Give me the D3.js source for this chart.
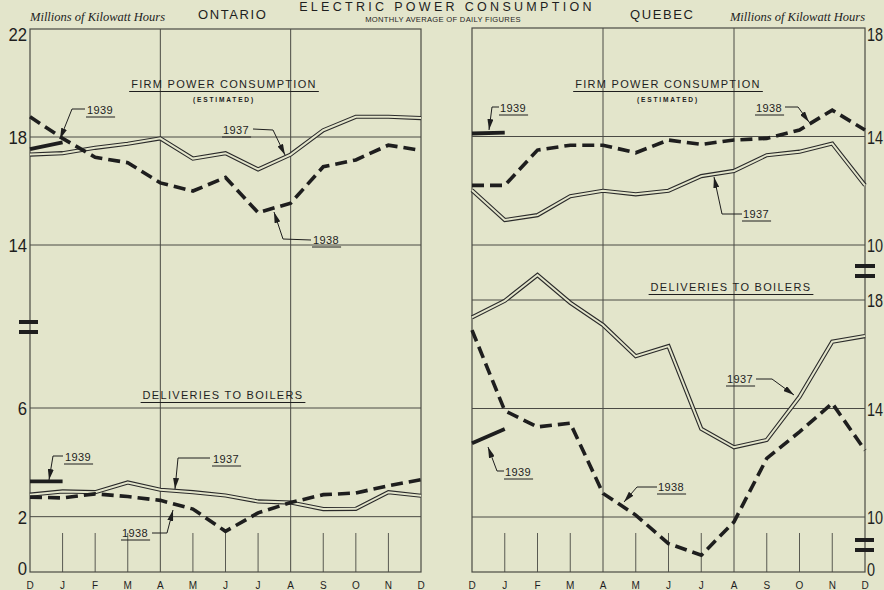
<!DOCTYPE html>
<html><head><meta charset="utf-8">
<script src="https://cdn.jsdelivr.net/npm/d3@7"></script>
<style>
html,body{margin:0;padding:0;background:#e3e5cb;}
svg{display:block;}
</style></head>
<body>
<script>
// ---------- DATA ----------
const months = ["D","J","F","M","A","M","J","J","A","S","O","N","D"];

// Ontario — firm power consumption (estimated), millions kWh
const ontFirm1937 = [17.35,17.4,17.6,17.75,17.95,17.2,17.4,16.8,17.35,18.25,18.75,18.75,18.7];
const ontFirm1938 = [18.75,17.95,17.25,17.05,16.3,16.0,16.5,15.2,15.55,16.9,17.15,17.7,17.5];
const ontFirm1939 = [17.55,17.8];
// Ontario — deliveries to boilers
const ontBoil1937 = [2.81,2.93,2.9,3.26,2.99,2.9,2.78,2.56,2.52,2.28,2.29,2.9,2.77];
const ontBoil1938 = [2.72,2.69,2.84,2.74,2.6,2.28,1.46,2.14,2.52,2.81,2.87,3.14,3.36];
const ontBoil1939 = [3.3,3.3];

// Quebec — firm power consumption (estimated)
const queFirm1937 = [12.02,10.92,11.1,11.8,12.0,11.87,12.0,12.54,12.73,13.31,13.44,13.74,12.2];
const queFirm1938 = [12.2,12.2,13.5,13.68,13.68,13.4,13.87,13.71,13.87,13.93,14.24,14.97,14.24];
const queFirm1939 = [14.11,14.14];
// Quebec — deliveries to boilers
const queBoil1937 = [17.36,17.97,18.92,17.9,17.08,15.93,16.3,13.25,12.57,12.84,14.43,16.46,16.67];
const queBoil1938 = [16.89,13.92,13.32,13.46,10.87,10.07,9.02,8.59,9.82,12.16,13.14,14.19,12.46];
const queBoil1939 = [12.72,13.24];

// tick labels
const ontTopTicks = [22,18,14];
const ontBotTicks = [6,2,0];
const queTopTicks = [18,14,10];
const queBotTicks = [18,14,10];
const queBotBaseLabel = "0";
const gridMonths = [4,8];

// ---------- LAYOUT ----------
const W = 884, H = 590;
const BG = "#e3e5cb", INK = "#1e1e1e", GRID = "#4a4a44";
const svg = d3.select("body").append("svg").attr("width",W).attr("height",H);
svg.append("rect").attr("width",W).attr("height",H).attr("fill",BG);

const defs = svg.append("defs");
defs.append("marker").attr("id","arr").attr("viewBox","0 0 11 6")
  .attr("refX",11).attr("refY",3).attr("markerWidth",11).attr("markerHeight",6)
  .attr("markerUnits","userSpaceOnUse").attr("orient","auto")
  .append("path").attr("d","M0,0 L11,3 L0,6 Z").attr("fill",INK);

const TOP_L = 29, TOP_R = 28, BOTTOM = 572;
const xL = d3.scaleLinear().domain([0,12]).range([30,421]);
const xR = d3.scaleLinear().domain([0,12]).range([472,865]);
const yLTop = d3.scaleLinear().domain([22,14]).range([29,245]);
const yLBot = d3.scaleLinear().domain([6,0]).range([408,571]);
const yRTop = d3.scaleLinear().domain([18,10]).range([28,245]);
const yRBot = d3.scaleLinear().domain([18,10]).range([300,517]);

const numFont = "'Liberation Sans', Arial, sans-serif";

// ---------- TITLES ----------
svg.append("text").attr("x",447).attr("y",10.5).attr("text-anchor","middle")
  .attr("font-family",numFont).attr("font-size",12.5).attr("letter-spacing",3.3)
  .attr("fill",INK).text("ELECTRIC POWER CONSUMPTION");
function italic(x,anchor,t){
  svg.append("text").attr("x",x).attr("y",21).attr("text-anchor",anchor)
   .attr("font-family","'Liberation Serif', 'DejaVu Serif', serif").attr("font-style","italic")
   .attr("font-size",12.5).attr("fill",INK).text(t);
}
italic(30,"start","Millions of Kilowatt Hours");
italic(865,"end","Millions of Kilowatt Hours");
svg.append("text").attr("x",198).attr("y",18.5).attr("font-family",numFont).attr("font-size",13)
  .attr("letter-spacing",1.6).attr("fill",INK).text("ONTARIO");
svg.append("text").attr("x",630).attr("y",18.5).attr("font-family",numFont).attr("font-size",13)
  .attr("letter-spacing",1.6).attr("fill",INK).text("QUEBEC");
svg.append("text").attr("x",443).attr("y",21.5).attr("text-anchor","middle").attr("font-family",numFont)
  .attr("font-size",7.6).attr("letter-spacing",0.3).attr("fill",INK).text("MONTHLY AVERAGE OF DAILY FIGURES");

// ---------- FRAMES & GRID ----------
function panel(x, top, hGrid){
  const g = svg.append("g").attr("stroke",GRID).attr("fill","none");
  const [x0,x1] = x.range();
  g.append("rect").attr("x",x0).attr("y",top).attr("width",x1-x0).attr("height",BOTTOM-top).attr("stroke-width",1.2);
  hGrid.forEach(y => g.append("line").attr("x1",x0).attr("x2",x1).attr("y1",y).attr("y2",y).attr("stroke-width",1));
  gridMonths.forEach(i => g.append("line").attr("x1",x(i)).attr("x2",x(i)).attr("y1",top).attr("y2",BOTTOM).attr("stroke-width",1));
  d3.range(1,12).filter(i=>!gridMonths.includes(i)).forEach(i =>
    g.append("line").attr("x1",x(i)).attr("x2",x(i)).attr("y1",533).attr("y2",BOTTOM).attr("stroke-width",0.9));
  // month labels
  svg.append("g").selectAll("text").data(months).join("text")
    .attr("x",(d,i)=>x(i)).attr("y",588.5).attr("text-anchor","middle")
    .attr("font-family",numFont).attr("font-size",10).attr("fill",INK).text(d=>d);
}
panel(xL, TOP_L, [yLTop(18),yLTop(14),yLBot(6),yLBot(2)]);
panel(xR, TOP_R, [yRTop(14),yRTop(10),yRBot(18),yRBot(14),yRBot(10)]);

// ---------- AXES LABELS ----------
function axisLabels(axisGen, scale, ticks, xPos, sx){
  const g = svg.append("g").attr("transform",`translate(${xPos},0)`)
    .call(axisGen(scale).tickValues(ticks).tickSize(0).tickPadding(0).tickFormat(d3.format("d")));
  g.select(".domain").remove();
  g.selectAll("text").attr("font-family",numFont).attr("font-size",19).attr("fill",INK)
    .attr("dy","0.35em").attr("x",0)
    .attr("y", function(d){ const y = scale(d); return y < 34 ? 34-y : (y>568 ? 568-y : 0); })
    .attr("transform",`scale(${sx},1)`);
  return g;
}
axisLabels(d3.axisLeft, yLTop, ontTopTicks, 27, 0.88);
axisLabels(d3.axisLeft, yLBot, ontBotTicks, 27, 0.88);
axisLabels(d3.axisRight, yRTop, queTopTicks, 867, 0.76);
axisLabels(d3.axisRight, yRBot, queBotTicks, 867, 0.76);
svg.append("text").attr("transform","translate(867,569) scale(0.76,1)").attr("dy","0.35em").attr("font-family",numFont)
  .attr("font-size",19).attr("fill",INK).text(queBotBaseLabel);

// break symbols
function brk(x0,x1,yc){
  [-5,5].forEach(o=>svg.append("rect").attr("x",x0).attr("y",yc+o-2).attr("width",x1-x0).attr("height",4).attr("fill",INK));
}
brk(19,38,327);
brk(855,875,271);
brk(855,874,545);

// ---------- SERIES ----------
function dbl(x,y,data){
  const line = d3.line().x((d,i)=>x(i)).y(d=>y(d));
  svg.append("path").attr("d",line(data)).attr("fill","none").attr("stroke","#2a2a2a").attr("stroke-width",4.2).attr("stroke-linejoin","miter");
  svg.append("path").attr("d",line(data)).attr("fill","none").attr("stroke",BG).attr("stroke-width",2.0).attr("stroke-linejoin","miter");
}
function dash(x,y,data){
  const line = d3.line().x((d,i)=>x(i)).y(d=>y(d));
  svg.append("path").attr("d",line(data)).attr("fill","none").attr("stroke",INK)
    .attr("stroke-width",3.6).attr("stroke-dasharray","12,6");
}
function solid(x,y,data){
  const line = d3.line().x((d,i)=>x(i)).y(d=>y(d));
  svg.append("path").attr("d",line(data)).attr("fill","none").attr("stroke",INK).attr("stroke-width",3.8);
}
dbl(xL,yLTop,ontFirm1937); dash(xL,yLTop,ontFirm1938); solid(xL,yLTop,ontFirm1939);
dbl(xL,yLBot,ontBoil1937); dash(xL,yLBot,ontBoil1938); solid(xL,yLBot,ontBoil1939);
dbl(xR,yRTop,queFirm1937); dash(xR,yRTop,queFirm1938); solid(xR,yRTop,queFirm1939);
dbl(xR,yRBot,queBoil1937); dash(xR,yRBot,queBoil1938); solid(xR,yRBot,queBoil1939);

// ---------- SECTION HEADINGS ----------
function heading(cx,y,t,sub){
  const tx = svg.append("text").attr("x",cx).attr("y",y).attr("text-anchor","middle")
    .attr("font-family",numFont).attr("font-size",11).attr("letter-spacing",1.3).attr("fill",INK).text(t);
  const w = tx.node().getComputedTextLength();
  svg.append("line").attr("x1",cx-w/2-2).attr("x2",cx+w/2+2).attr("y1",y+3.5).attr("y2",y+3.5).attr("stroke",INK).attr("stroke-width",1);
  if(sub) svg.append("text").attr("x",cx).attr("y",y+14).attr("text-anchor","middle")
    .attr("font-family",numFont).attr("font-weight","bold").attr("font-size",6.6).attr("letter-spacing",1.8).attr("fill",INK).text(sub);
}
heading(224,88,"FIRM POWER CONSUMPTION","(ESTIMATED)");
heading(668,88,"FIRM POWER CONSUMPTION","(ESTIMATED)");
heading(223,399,"DELIVERIES TO BOILERS");
heading(731,291,"DELIVERIES TO BOILERS");

// ---------- ANNOTATIONS ----------
const notes = [
  {t:"1939", x:87,  y:114, path:[[85,109],[72,109],[60,139]]},
  {t:"1937", x:223, y:134, path:[[253,129],[273,130],[285,155]]},
  {t:"1938", x:313, y:244, path:[[311,240],[283,239],[274,212]]},
  {t:"1939", x:65,  y:461, path:[[63,456],[53,456],[49,480]]},
  {t:"1937", x:213, y:463, path:[[210,458],[178,458],[175,489]]},
  {t:"1938", x:122, y:537, path:[[152,533],[167,533],[173,510]]},
  {t:"1939", x:500, y:112, path:[[499,107],[492,107],[489,130]]},
  {t:"1938", x:756, y:112, path:[[785,107],[798,107],[809,122]]},
  {t:"1937", x:743, y:218, path:[[742,214],[722,214],[714,177]]},
  {t:"1937", x:727, y:383, path:[[756,379],[772,379],[794,395]]},
  {t:"1939", x:505, y:476, path:[[504,471],[497,471],[488,447]]},
  {t:"1938", x:658, y:491, path:[[657,487],[637,487],[624,502]]}
];
notes.forEach(n=>{
  const tx = svg.append("text").attr("x",n.x).attr("y",n.y).attr("font-family",numFont)
    .attr("font-size",11).attr("letter-spacing",0.4).attr("fill",INK).text(n.t);
  const w = tx.node().getComputedTextLength();
  svg.append("line").attr("x1",n.x-1).attr("x2",n.x+w+2).attr("y1",n.y+3).attr("y2",n.y+3).attr("stroke",INK).attr("stroke-width",1);
  svg.append("path").attr("d",d3.line()(n.path)).attr("fill","none").attr("stroke",INK)
    .attr("stroke-width",1).attr("marker-end","url(#arr)");
});
</script>
</body></html>
